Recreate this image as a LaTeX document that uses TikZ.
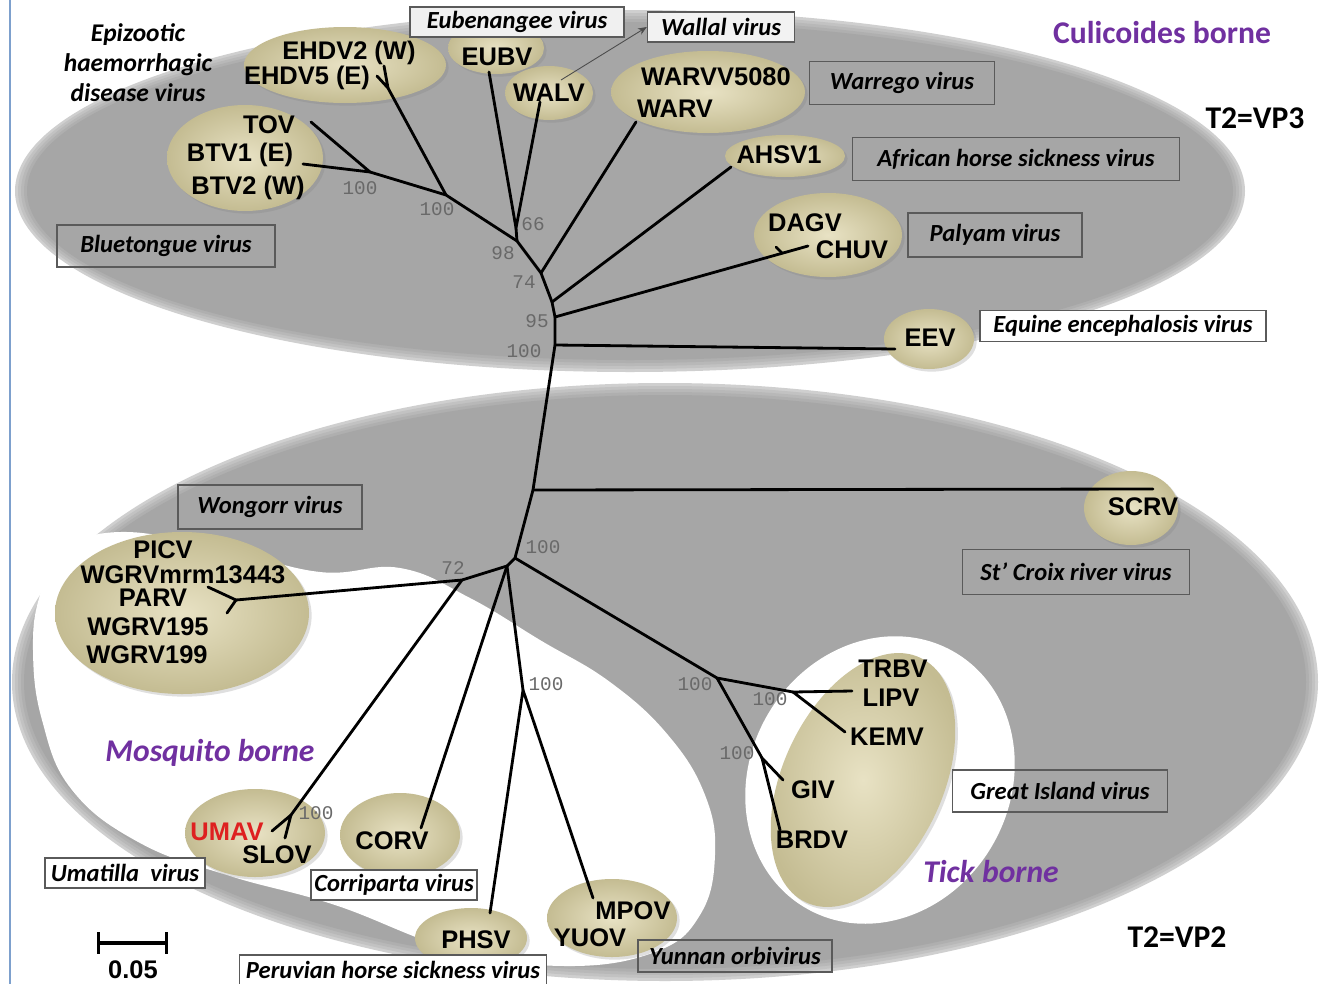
\documentclass[tikz,border=0pt]{standalone}
\usepackage{fontspec}
\setmainfont{Liberation Sans}
\newfontfamily\calfont{Carlito}
\newfontfamily\courfont{Liberation Mono}
\usetikzlibrary{arrows.meta, shadows}
\definecolor{tanin}{RGB}{232,226,196}
\definecolor{tanout}{RGB}{196,188,146}
\definecolor{boxline}{RGB}{90,90,90}
\definecolor{bootgray}{RGB}{105,105,105}
\definecolor{borneviolet}{RGB}{112,48,160}
\definecolor{umared}{RGB}{222,32,32}
\definecolor{sideblue}{RGB}{125,160,205}
\begin{document}
\begin{tikzpicture}[x=0.02cm, y=-0.02cm,
  tip/.style={font=\bfseries\fontsize{14.5}{15}\selectfont, inner sep=0pt},
  vlab/.style={draw=boxline, line width=0.8pt, inner sep=0pt,
    font=\calfont\bfseries\itshape\fontsize{14}{14}\selectfont},
  boot/.style={font=\courfont\fontsize{11}{11}\selectfont, text=bootgray, inner sep=0pt},
  branch/.style={line width=1.6pt, line cap=round, line join=round},
  borne/.style={font=\calfont\bfseries\itshape\fontsize{18}{18}\selectfont, text=borneviolet, inner sep=0pt},
  tnum/.style={font=\calfont\bfseries\fontsize{18}{18}\selectfont, inner sep=0pt},
  tanblob/.style={shade, inner color=tanin, outer color=tanout,
    drop shadow={opacity=0.25, shadow xshift=1.5pt, shadow yshift=-1.5pt}}]
\useasboundingbox (0,0) rectangle (1319,984);
\fill[white] (0,0) rectangle (1319,984);
\draw[sideblue, line width=1.2pt] (10,0) -- (10,984);

% gray groups (T2=VP3 above, T2=VP2 below)
\foreach \d/\c in {0/38, 3/48, 6/56, 9/63, 12/70} {
  \fill[gray!\c] (630,191) ellipse [x radius=615-\d, y radius=181-\d];
  \fill[gray!\c] (665,682) ellipse [x radius=653-\d, y radius=299-\d];
}

% mosquito and tick areas
\fill[white] plot[smooth cycle, tension=0.7] coordinates {(40,595) (62,552) (120,532) (220,548)
  (320,572) (400,568) (470,598) (540,640) (610,682) (668,735) (705,795) (715,855)
  (700,915) (655,952) (565,966) (455,950) (335,905) (230,876) (140,843) (72,790)
  (42,720) (33,650)};
\fill[white, rotate around={60:(880,780)}] (880,780) ellipse [x radius=148, y radius=130];

% virus groups
\path[tanblob] (345,65) ellipse [x radius=101, y radius=38];
\path[tanblob] (496,48) ellipse [x radius=48, y radius=26];
\path[tanblob] (549,93) ellipse [x radius=44, y radius=27];
\path[tanblob] (708,92) ellipse [x radius=97, y radius=41];
\path[tanblob] (245,158) ellipse [x radius=78, y radius=53];
\path[tanblob] (785,156) ellipse [x radius=60, y radius=21];
\path[tanblob] (828,235) ellipse [x radius=74, y radius=42];
\path[tanblob] (929,339) ellipse [x radius=45, y radius=30];
\path[tanblob] (1131,508) ellipse [x radius=47, y radius=37];
\path[tanblob] (182,613) ellipse [x radius=127, y radius=81];
\path[tanblob] (255,833) ellipse [x radius=70, y radius=44];
\path[tanblob] (400,835) ellipse [x radius=60, y radius=42];
\path[tanblob] (471,938) ellipse [x radius=56, y radius=30];
\path[tanblob] (612,918) ellipse [x radius=65, y radius=39];
\path[tanblob, rotate around={65:(863,780)}] (863,780) ellipse [x radius=135, y radius=80];

% tree points
\coordinate (tTOV) at (311,122);
\coordinate (tBTV) at (303,164);
\coordinate (nBT) at (370,172);
\coordinate (tEHa) at (377,76);
\coordinate (tEHb) at (384,66);
\coordinate (nEH) at (388,88);
\coordinate (nB) at (446,195);
\coordinate (tEUBV) at (489,72);
\coordinate (tWALV) at (540,102);
\coordinate (nC) at (516,228);
\coordinate (nD) at (517,241);
\coordinate (tWARV) at (636,122);
\coordinate (nE) at (541,273);
\coordinate (tAHSV) at (731,167);
\coordinate (nF) at (552,302);
\coordinate (nG) at (555,317);
\coordinate (tCHUV) at (808,246);
\coordinate (nPY) at (782,253);
\coordinate (tDAGV) at (776,247);
\coordinate (nH) at (555,345);
\coordinate (tEEV) at (895,349);
\coordinate (nS) at (533,490);
\coordinate (tSCRV) at (1153,489);
\coordinate (nI) at (515,558);
\coordinate (nJ) at (507,566);
\coordinate (nK) at (462,580);
\coordinate (nP) at (236,600);
\coordinate (tPa) at (208,587);
\coordinate (tPb) at (227,613);
\coordinate (nU) at (291,815);
\coordinate (tUMAV) at (272,831);
\coordinate (tSLOV) at (285,838);
\coordinate (tCORV) at (421,828);
\coordinate (nL) at (523,690);
\coordinate (tPHSV) at (490,913);
\coordinate (tMPOV) at (593,898);
\coordinate (nM) at (717,678);
\coordinate (nN) at (793,692);
\coordinate (tLIPV) at (852,691);
\coordinate (tKEMV) at (845,732);
\coordinate (nO) at (762,758);
\coordinate (tGIV) at (783,780);
\coordinate (tBRDV) at (780,830);

% branches
\draw[branch] (tTOV) -- (nBT) -- (tBTV);
\draw[branch] (nBT) -- (nB) -- (nD) -- (nE) -- (nF) -- (nG) -- (nH) -- (nS) -- (nI) -- (nJ);
\draw[branch] (tEHa) -- (nEH) -- (tEHb);
\draw[branch] (nEH) -- (nB);
\draw[branch] (tEUBV) -- (nC) -- (tWALV);
\draw[branch] (nC) -- (nD);
\draw[branch] (nE) -- (tWARV);
\draw[branch] (nF) -- (tAHSV);
\draw[branch] (nG) -- (tCHUV);
\draw[branch] (nPY) -- (tDAGV);
\draw[branch] (nH) -- (tEEV);
\draw[branch] (nS) -- (tSCRV);
\draw[branch] (nJ) -- (nK) -- (nP);
\draw[branch] (tPa) -- (nP) -- (tPb);
\draw[branch] (nK) -- (nU);
\draw[branch] (tUMAV) -- (nU) -- (tSLOV);
\draw[branch] (nJ) -- (tCORV);
\draw[branch] (nJ) -- (nL);
\draw[branch] (tPHSV) -- (nL) -- (tMPOV);
\draw[branch] (nI) -- (nM) -- (nN);
\draw[branch] (tLIPV) -- (nN) -- (tKEMV);
\draw[branch] (nM) -- (nO);
\draw[branch] (tGIV) -- (nO) -- (tBRDV);

% bootstrap values
\node[boot] (b1) at (360,188) {100};
\node[boot] (b2) at (437,209) {100};
\node[boot] (b3) at (533,224) {66};
\node[boot] (b4) at (503,253) {98};
\node[boot] (b5) at (524,282) {74};
\node[boot] (b6) at (537,321) {95};
\node[boot] (b7) at (524,351) {100};
\node[boot] (b8) at (543,547) {100};
\node[boot] (b9) at (453,568) {72};
\node[boot] (b10) at (546,684) {100};
\node[boot] (b11) at (695,684) {100};
\node[boot] (b12) at (770,699) {100};
\node[boot] (b13) at (737,753) {100};
\node[boot] (b14) at (316,813) {100};

% virus names
\node[tip] (lEHDV2) at (349,53) {EHDV2 (W)};
\node[tip] (lEHDV5) at (307,78) {EHDV5 (E)};
\node[tip] (lEUBV) at (497,57) {EUBV};
\node[tip] (lWALV) at (549,93) {WALV};
\node[tip] (lWARVV) at (716,77) {WARVV5080};
\node[tip] (lWARV) at (675,109) {WARV};
\node[tip] (lTOV) at (269,125) {TOV};
\node[tip] (lBTV1) at (240,155) {BTV1 (E)};
\node[tip] (lBTV2) at (248,188) {BTV2 (W)};
\node[tip] (lAHSV) at (779,155) {AHSV1};
\node[tip] (lDAGV) at (805,223) {DAGV};
\node[tip] (lCHUV) at (852,250) {CHUV};
\node[tip] (lEEV) at (930,338) {EEV};
\node[tip] (lSCRV) at (1143,507) {SCRV};
\node[tip] (lPICV) at (163,550) {PICV};
\node[tip] (lWGRVm) at (183,575) {WGRVmrm13443};
\node[tip] (lPARV) at (153,598) {PARV};
\node[tip] (lWGRV5) at (148,627) {WGRV195};
\node[tip] (lWGRV9) at (147,655) {WGRV199};
\node[tip, text=umared] (lUMAV) at (227,832) {UMAV};
\node[tip] (lSLOV) at (277,855) {SLOV};
\node[tip] (lCORV) at (392,841) {CORV};
\node[tip] (lPHSV) at (476,940) {PHSV};
\node[tip] (lMPOV) at (633,911) {MPOV};
\node[tip] (lYUOV) at (590,938) {YUOV};
\node[tip] (lTRBV) at (893,669) {TRBV};
\node[tip] (lLIPV) at (891,698) {LIPV};
\node[tip] (lKEMV) at (887,737) {KEMV};
\node[tip] (lGIV) at (813,790) {GIV};
\node[tip] (lBRDV) at (812,840) {BRDV};

% serogroup boxes
\node[vlab, fill=gray!12, minimum width=4.28cm, minimum height=0.6cm] (eub) at (517,22) {Eubenangee virus};
\node[vlab, fill=gray!10, minimum width=2.94cm, minimum height=0.6cm] (wal) at (721,27) {Wallal virus};
\node[vlab, minimum width=3.7cm, minimum height=0.86cm] (war) at (902,83) {Warrego virus};
\node[vlab, minimum width=6.54cm, minimum height=0.86cm] (ahs) at (1016,159) {African horse sickness virus};
\node[vlab, minimum width=3.48cm, minimum height=0.88cm] (pal) at (995,235) {Palyam virus};
\node[vlab, fill=white, minimum width=5.72cm, minimum height=0.62cm] (eqe) at (1123,326) {Equine encephalosis virus};
\node[vlab, minimum width=4.36cm, minimum height=0.84cm] (blu) at (166,246) {Bluetongue virus};
\node[vlab, minimum width=3.68cm, minimum height=0.88cm] (won) at (270,507) {Wongorr virus};
\node[vlab, minimum width=4.54cm, minimum height=0.9cm] (scr) at (1076,572) {St’ Croix river virus};
\node[vlab, minimum width=4.3cm, minimum height=0.84cm] (gis) at (1060,791) {Great Island virus};
\node[vlab, fill=white, minimum width=3.2cm, minimum height=0.6cm] (uma) at (125,873) {Umatilla\ \ virus};
\node[vlab, fill=white, minimum width=3.32cm, minimum height=0.6cm] (cor) at (394,885) {Corriparta virus};
\node[vlab, fill=white, minimum width=6.14cm, minimum height=0.6cm] (phs) at (393,970) {Peruvian horse sickness virus};
\node[vlab, minimum width=3.88cm, minimum height=0.64cm] (yun) at (735,956) {Yunnan orbivirus};
\node[font=\calfont\bfseries\itshape\fontsize{14.5}{17}\selectfont, align=center, inner sep=0pt]
  (epiz) at (138,63) {Epizootic\\haemorrhagic\\disease virus};

\coordinate (walStart) at (561,80);
\draw[-{Stealth[length=5pt, width=4pt]}, gray!60!black, line width=0.5pt] (walStart) -- (wal.west);

% vectors and group names
\node[borne, font=\calfont\bfseries\fontsize{18}{18}\selectfont] (cul) at (1162,33) {Culicoides borne};
\node[borne] (mos) at (210,753) {Mosquito borne};
\node[borne] (tick) at (991,872) {Tick borne};
\node[tnum] (vp3) at (1255,118) {T2=VP3};
\node[tnum] (vp2) at (1177,937) {T2=VP2};

% scale bar
\coordinate (sbL) at (97,943);
\coordinate (sbR) at (168,943);
\draw[line width=1.8pt, {Bar[width=12pt]}-{Bar[width=12pt]}] (sbL) -- (sbR);
\node[tip] (sbT) at (133,970) {0.05};
\end{tikzpicture}
\end{document}
